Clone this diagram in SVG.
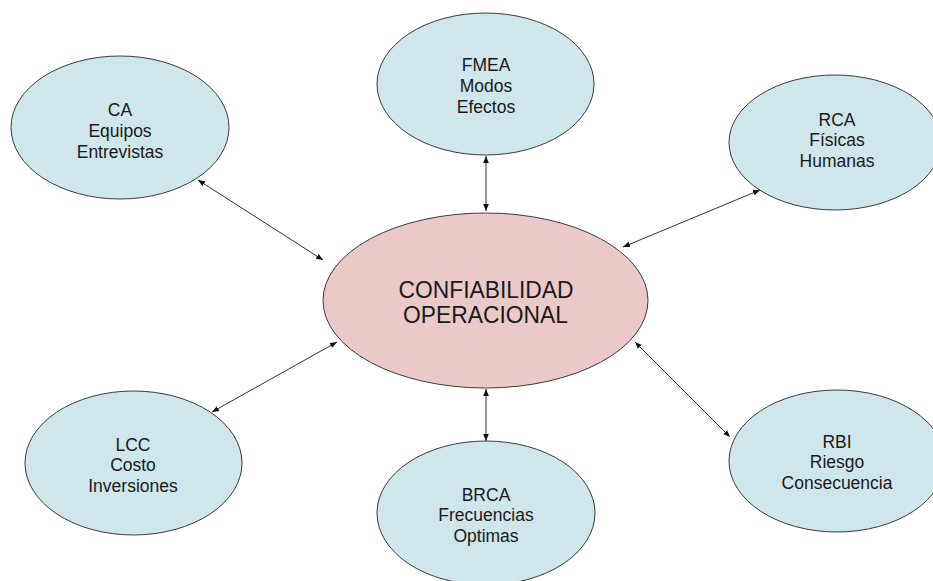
<svg xmlns="http://www.w3.org/2000/svg" width="933" height="581" viewBox="0 0 933 581">
  <style>
    .node { fill: #cfe6ed; stroke: #3a3a3a; stroke-width: 1; }
    .hub { fill: #ecc9c9; stroke: #3a3a3a; stroke-width: 1; }
    .lbl { font-family: "Liberation Sans", Arial, sans-serif; font-size: 17.5px; fill: #1a1a1a; text-anchor: middle; }
    .big { font-family: "Liberation Sans", Arial, sans-serif; font-size: 24px; fill: #1a1a1a; text-anchor: middle; }
    .link { stroke: #333; stroke-width: 1; fill: none; marker-start: url(#tip); marker-end: url(#tip); }
  </style>
  <defs>
    <marker id="tip" viewBox="0 0 10 10" refX="10" refY="5" markerWidth="7" markerHeight="7" markerUnits="userSpaceOnUse" orient="auto-start-reverse">
      <path d="M0,1 L10,5 L0,9 Z" fill="#111"/>
    </marker>
  </defs>
  <rect width="933" height="581" fill="#ffffff"/>

  <g id="connectors">
    <line class="link" x1="198" y1="180" x2="323" y2="260"/>
    <line class="link" x1="486" y1="156" x2="486" y2="211"/>
    <line class="link" x1="760" y1="190" x2="623" y2="247"/>
    <line class="link" x1="212" y1="412" x2="337" y2="342"/>
    <line class="link" x1="486" y1="389" x2="486" y2="441"/>
    <line class="link" x1="635" y1="342" x2="730" y2="437"/>
  </g>

  <g id="hub">
    <ellipse class="hub" cx="485.5" cy="300.5" rx="162.5" ry="87.5"/>
    <text class="big" x="486" y="298" textLength="175" lengthAdjust="spacingAndGlyphs">CONFIABILIDAD</text>
    <text class="big" x="485.5" y="323" textLength="165" lengthAdjust="spacingAndGlyphs">OPERACIONAL</text>
  </g>

  <g id="ca">
    <ellipse class="node" cx="120" cy="127.5" rx="109" ry="71.5"/>
    <text class="lbl" x="120" y="116">CA</text>
    <text class="lbl" x="120" y="137">Equipos</text>
    <text class="lbl" x="120" y="158">Entrevistas</text>
  </g>

  <g id="fmea">
    <ellipse class="node" cx="485.5" cy="84" rx="108.5" ry="71"/>
    <text class="lbl" x="486" y="71">FMEA</text>
    <text class="lbl" x="486" y="92">Modos</text>
    <text class="lbl" x="486" y="113">Efectos</text>
  </g>

  <g id="rca">
    <ellipse class="node" cx="835" cy="142.5" rx="106" ry="67.5"/>
    <text class="lbl" x="837" y="126">RCA</text>
    <text class="lbl" x="837" y="146">Físicas</text>
    <text class="lbl" x="837" y="167">Humanas</text>
  </g>

  <g id="lcc">
    <ellipse class="node" cx="133.5" cy="463" rx="108.5" ry="72"/>
    <text class="lbl" x="133" y="451">LCC</text>
    <text class="lbl" x="133" y="471">Costo</text>
    <text class="lbl" x="133" y="492">Inversiones</text>
  </g>

  <g id="brca">
    <ellipse class="node" cx="486" cy="513" rx="109" ry="72"/>
    <text class="lbl" x="486" y="501">BRCA</text>
    <text class="lbl" x="486" y="521">Frecuencias</text>
    <text class="lbl" x="486" y="542">Optimas</text>
  </g>

  <g id="rbi">
    <ellipse class="node" cx="837" cy="461" rx="108" ry="71"/>
    <text class="lbl" x="837" y="448">RBI</text>
    <text class="lbl" x="837" y="468">Riesgo</text>
    <text class="lbl" x="837" y="489">Consecuencia</text>
  </g>
</svg>
